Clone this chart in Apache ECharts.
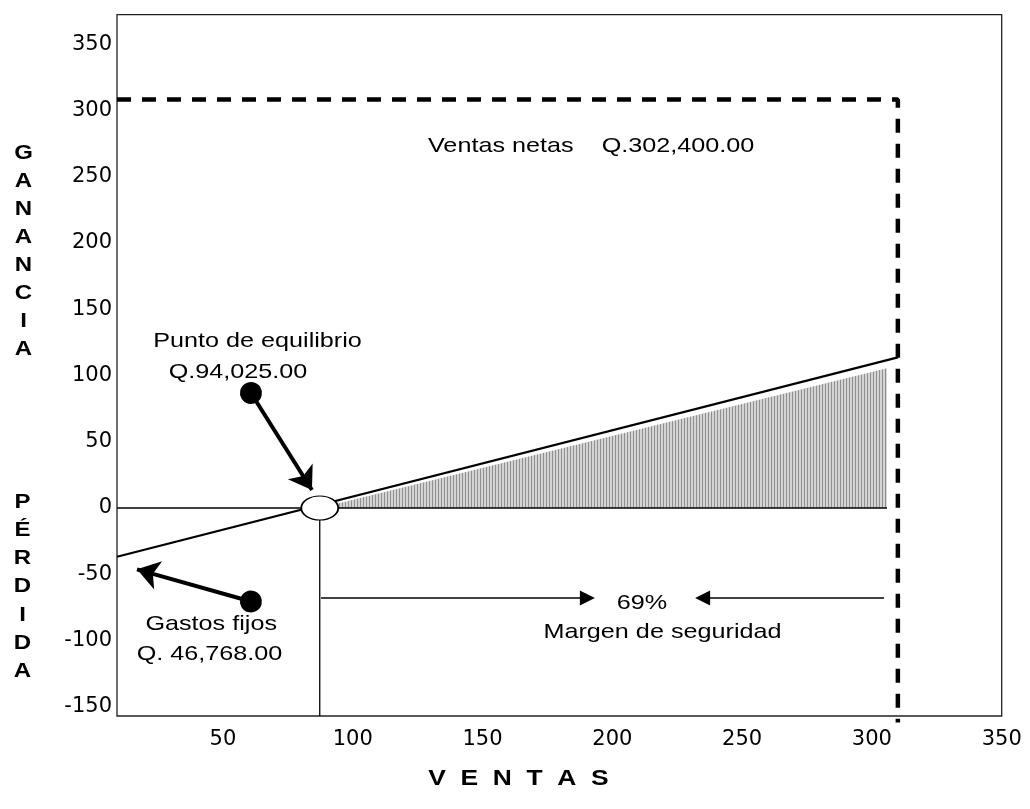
<!DOCTYPE html>
<html>
<head>
<meta charset="utf-8">
<script src="https://cdn.jsdelivr.net/npm/echarts@6/dist/echarts.min.js"></script>
<style>
html,body{margin:0;padding:0;background:#fff;}
#c{width:1030px;height:809px;}
</style>
</head>
<body>
<div id="c"></div>
<script>
// ---- data (ventas / ganancia en miles de quetzales) ----
const xTicks = [50, 100, 150, 200, 250, 300, 350];
const yTicks = [-150, -100, -50, 0, 50, 100, 150, 200, 250, 300, 350];
const xRange = [9.2, 350];
const yRange = [-157, 372.3];
const resultX = [9.2, 310];          // recta de resultado (ganancia/pérdida)
const resultY = [-36.8, 113.7];
const zeroLineX = [9.2, 305.8];
const breakEvenX = 87.3;             // punto de equilibrio
const breakEvenY = 0;
const safetyX = [87.3, 305.8, 305.8]; // área de ganancia
const safetyY = [0, 105.4, 0];
const netSalesX = 310;               // ventas netas
const netSalesY = 308.3;
const netSalesDropY = -162;
const arrowBreakEven = [[60.8, 86.8], [84.3, 13.6]];
const arrowFixedCost = [[60.8, -70.6], [16.9, -46.3]];
const arrowMarginLeft = [[87.8, -67.9], [190.4, -67.9]];
const arrowMarginRight = [[304.7, -67.9], [234.8, -67.9]];

const pc = document.createElement('canvas');
pc.width = 3; pc.height = 4;
const pctx = pc.getContext('2d');
pctx.fillStyle = '#d4d4d4'; pctx.fillRect(0, 0, 3, 4);
pctx.fillStyle = '#909090'; pctx.fillRect(0, 0, 1, 4);

const zip = (xs, ys) => xs.map((x, i) => [x, ys[i]]);
const TRI = 'path://M0 0L10 20L-10 20Z';

const chart = echarts.init(document.getElementById('c'), null, {renderer: 'canvas'});
const txt = (text, x, y, opts) => Object.assign({
  type: 'text', x: x, y: y, scaleX: 1.2, silent: true, z: 100,
  style: Object.assign({
    text: text, fill: '#000', fontFamily: 'Liberation Sans',
    fontSize: 21, textAlign: 'center', textVerticalAlign: 'middle'
  }, opts || {})
});

const option = {
  animation: false,
  backgroundColor: '#fff',
  grid: {
    left: 117, right: 28.3, top: 14.7, bottom: 93,
    show: true, borderColor: '#222', borderWidth: 1.3,
    containLabel: false, outerBoundsMode: 'none'
  },
  xAxis: {
    type: 'value', min: xRange[0], max: xRange[1],
    axisLine: {show: false}, axisTick: {show: false}, splitLine: {show: false},
    axisLabel: {customValues: xTicks, fontFamily: 'DejaVu Sans', fontSize: 21, color: '#000', margin: 13}
  },
  yAxis: {
    type: 'value', min: yRange[0], max: yRange[1],
    axisLine: {show: false}, axisTick: {show: false}, splitLine: {show: false},
    axisLabel: {customValues: yTicks, fontFamily: 'DejaVu Sans', fontSize: 21, color: '#000', margin: 5}
  },
  series: [
    {
      type: 'line', name: 'margen', data: zip(safetyX, safetyY), symbol: 'none', z: 2,
      lineStyle: {width: 0}, areaStyle: {color: {image: pc, repeat: 'repeat'}, opacity: 1}
    },
    {
      type: 'line', name: 'cero', data: zeroLineX.map(x => [x, 0]), symbol: 'none', z: 3,
      lineStyle: {color: '#000', width: 1.3}
    },
    {
      type: 'line', name: 'equilibrio', data: [[breakEvenX, breakEvenY], [breakEvenX, yRange[0]]],
      symbol: 'none', z: 3, lineStyle: {color: '#000', width: 1.3}
    },
    {
      type: 'line', name: 'resultado', data: zip(resultX, resultY), symbol: 'none', z: 4,
      lineStyle: {color: '#000', width: 2.2}
    },
    {
      type: 'line', name: 'ventas netas',
      data: [[xRange[0], netSalesY], [netSalesX, netSalesY], [netSalesX, netSalesDropY]],
      symbol: 'none', z: 5, clip: false,
      lineStyle: {color: '#000', width: 4.5, type: [14, 11], cap: 'butt'}
    },
    {
      type: 'scatter', name: 'punto', data: [[breakEvenX, breakEvenY]], z: 6,
      symbol: 'circle', symbolSize: [37, 24],
      itemStyle: {color: '#fff', borderColor: '#000', borderWidth: 1.5, opacity: 1}
    },
    {
      type: 'line', name: 'flechas', data: [], z: 7,
      markLine: {
        silent: true, animation: false,
        symbol: ['circle', 'arrow'], symbolSize: [22, 22],
        label: {show: false}, emphasis: {disabled: true},
        itemStyle: {color: '#000'},
        lineStyle: {color: '#000', width: 4, type: 'solid'},
        data: [
          [{coord: arrowBreakEven[0]}, {coord: arrowBreakEven[1]}],
          [{coord: arrowFixedCost[0]}, {coord: arrowFixedCost[1]}]
        ]
      }
    },
    {
      type: 'line', name: 'margen flechas', data: [], z: 7,
      markLine: {
        silent: true, animation: false,
        symbol: ['circle', TRI], symbolSize: [0.1, 15],
        label: {show: false}, emphasis: {disabled: true},
        itemStyle: {color: '#000'},
        lineStyle: {color: '#000', width: 1.5, type: 'solid'},
        data: [
          [{coord: arrowMarginLeft[0], symbol: 'none'}, {coord: arrowMarginLeft[1], symbol: TRI, symbolSize: 15}],
          [{coord: arrowMarginRight[0], symbol: 'none'}, {coord: arrowMarginRight[1], symbol: TRI, symbolSize: 15}]
        ]
      }
    }
  ],
  graphic: {
    elements: [
      txt('Ventas netas', 500.8, 145.8),
      txt('Q.302,400.00', 678, 145.8),
      txt('Punto de equilibrio', 257.5, 340.8),
      txt('Q.94,025.00', 238, 372.5),
      txt('Gastos fijos', 211.2, 624),
      txt('Q. 46,768.00', 209.5, 654),
      txt('69%', 642, 603.5),
      txt('Margen de seguridad', 662.5, 632),
      txt('G\nA\nN\nA\nN\nC\nI\nA', 23.5, 140, {fontSize: 20, fontWeight: 'bold', lineHeight: 27.9, textVerticalAlign: 'top'}),
      txt('P\nÉ\nR\nD\nI\nD\nA', 22.5, 487.9, {fontSize: 20, fontWeight: 'bold', lineHeight: 28.3, textVerticalAlign: 'top'}),
      txt('V  E  N  T  A  S', 518.5, 778.5, {fontSize: 22, fontWeight: 'bold'})
    ]
  }
};
chart.setOption(option);
</script>
</body>
</html>
